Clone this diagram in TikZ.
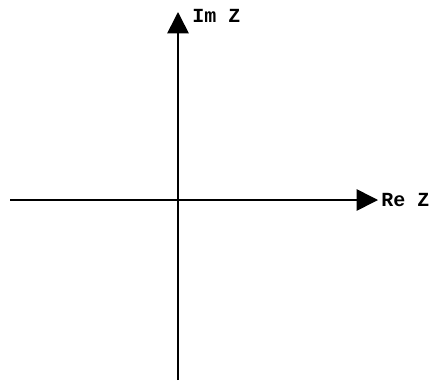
\documentclass[tikz,border=0pt]{standalone}
\usepackage{fontspec}
\newfontfamily\axisfont{Liberation Mono}
\usepackage{tikz}
\usetikzlibrary{arrows.meta,positioning,calc}
\tikzset{
  axis/.style={-{Triangle[length=16pt,width=16pt]},line width=1.2pt,draw=black},
  lbl/.style={font=\axisfont\bfseries\fontsize{15}{16}\selectfont,text=black,inner sep=0pt,anchor=west}
}

\begin{document}
\begin{tikzpicture}[x=0.75pt,y=-0.75pt]
\useasboundingbox (0,0) rectangle (434,382);
\coordinate (xl) at (10,200);
\coordinate (xr) at (378,200);
\coordinate (yb) at (178,380);
\coordinate (yt) at (178,12);
\node[lbl] (re) at (381,200) {Re Z};
\node[lbl] (im) at (192,16) {Im Z};
\draw[axis] (xl)--(xr);
\draw[axis] (yb)--(yt);
\end{tikzpicture}
\end{document}
